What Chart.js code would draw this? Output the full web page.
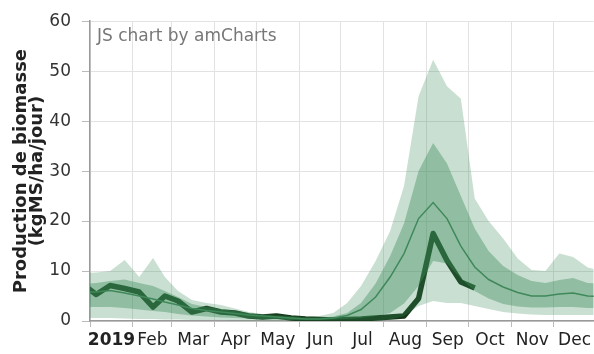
<!DOCTYPE html>
<html>
<head>
<meta charset="utf-8">
<title>Production de biomasse</title>
<script src="https://cdn.jsdelivr.net/npm/chart.js@4/dist/chart.umd.min.js"></script>
<style>
  html, body { margin: 0; padding: 0; background: #fff; }
  #chart { display: block; }
</style>
</head>
<body>
<canvas id="chart" width="594" height="354"></canvas>
<script>
// Day of year at the middle of each dekad (plus one point either side of the year)
const dekadDays = [-5.5, 4.5, 14.5, 25, 35.5, 45.5, 54, 63.5, 73.5, 84, 94.5, 104.5, 114.5,
  124.5, 134.5, 145, 155.5, 165.5, 175.5, 185.5, 195.5, 206, 216.5, 226.5, 237,
  247.5, 257.5, 267.5, 277.5, 287.5, 298, 308.5, 318.5, 328.5, 338.5, 348.5, 359, 369.5];

// Min / max over past years
const outerLow = [0.6, 0.6, 0.6, 0.5, 0.4, 0.4, 0.3, 0.3, 0.2, 0.2, 0.2, 0.1, 0.1, 0.1,
  0.1, 0.1, 0.1, 0.1, 0.1, 0.1, 0.1, 0.1, 0.3, 1.0, 3.0, 4.0, 3.6, 3.6, 3.0, 2.4,
  1.8, 1.5, 1.3, 1.2, 1.2, 1.2, 1.2, 1.2];
const outerHigh = [9.6, 9.7, 10.0, 12.2, 8.8, 12.6, 8.8, 6.0, 4.2, 3.6, 3.2, 2.5, 1.8, 1.4,
  1.2, 1.0, 0.8, 1.0, 1.6, 3.6, 7.0, 12.0, 18.0, 27.0, 45.0, 52.3, 47.0, 44.5, 24.5,
  20.0, 16.5, 12.5, 10.2, 10.0, 13.5, 12.8, 10.7, 10.0];

// Quartiles
const innerLow = [2.8, 2.8, 2.8, 2.6, 2.3, 2.0, 1.8, 1.4, 1.1, 0.9, 0.7, 0.6, 0.5, 0.4,
  0.3, 0.2, 0.2, 0.2, 0.3, 0.4, 0.6, 1.0, 1.6, 3.5, 7.0, 12.0, 11.5, 8.5, 6.0, 4.5,
  3.4, 2.9, 2.7, 2.7, 2.8, 2.8, 2.6, 2.6];
const innerHigh = [7.4, 7.6, 8.0, 8.3, 7.6, 7.0, 6.0, 4.8, 3.4, 2.8, 2.4, 2.0, 1.6, 1.2,
  1.0, 0.8, 0.6, 0.6, 0.9, 1.6, 3.6, 7.5, 13.0, 19.5, 30.0, 35.6, 31.5, 25.0, 18.5,
  14.0, 11.0, 9.2, 8.0, 7.6, 8.2, 8.6, 7.6, 7.5];

const median = [5.8, 5.8, 6.1, 5.6, 5.0, 4.4, 3.8, 3.2, 2.5, 2.1, 1.8, 1.5, 1.2, 1.0,
  0.8, 0.6, 0.4, 0.4, 0.6, 1.1, 2.3, 4.8, 8.8, 13.5, 20.5, 23.7, 20.5, 15.0, 10.8,
  8.3, 6.8, 5.7, 5.0, 5.0, 5.4, 5.6, 5.0, 4.9];

// Current year, up to early October
const year2019 = [7.4, 5.3, 7.1, 6.5, 5.8, 2.8, 5.0, 4.0, 1.8, 2.5, 1.8, 1.6, 1.0, 0.8,
  1.0, 0.6, 0.4, 0.3, 0.2, 0.3, 0.4, 0.6, 0.8, 1.0, 4.5, 17.5, 12.1, 7.8, 6.6];

const monthStarts = [0, 31, 59, 90, 120, 151, 181, 212, 243, 273, 304, 334];
const monthMids = [15.5, 45, 74.5, 105, 135.5, 166, 196.5, 227.5, 258, 288.5, 319, 349.5];
const monthLabels = ['2019', 'Feb', 'Mar', 'Apr', 'May', 'Jun', 'Jul', 'Aug', 'Sep', 'Oct', 'Nov', 'Dec'];
const yTicks = [0, 10, 20, 30, 40, 50, 60];

const points = values => values.map((v, i) => ({ x: dekadDays[i], y: v }));

const band = (values, fill, color) => ({
  data: points(values),
  borderWidth: 0,
  pointRadius: 0,
  fill: fill,
  backgroundColor: color,
  tension: 0
});

Chart.defaults.font.family = "'DejaVu Sans', Verdana, sans-serif";
Chart.defaults.font.size = 17;
Chart.defaults.color = '#333';

// Small grey credit in the plot corner
const credit = {
  id: 'credit',
  afterDatasetsDraw(chart) {
    const ctx = chart.ctx;
    ctx.save();
    ctx.font = "17px 'DejaVu Sans'";
    ctx.fillStyle = '#777';
    ctx.textBaseline = 'alphabetic';
    ctx.fillText('JS chart by amCharts', chart.chartArea.left + 7, 41);
    ctx.restore();
  }
};

new Chart(document.getElementById('chart'), {
  type: 'line',
  data: {
    datasets: [
      band(outerLow, false, 'transparent'),
      band(outerHigh, '-1', 'rgba(60,140,90,0.28)'),
      band(innerLow, false, 'transparent'),
      band(innerHigh, '-1', 'rgba(60,140,90,0.4)'),
      {
        data: points(median),
        borderColor: '#45845a',
        borderWidth: 1.5,
        pointRadius: 0,
        fill: false,
        tension: 0
      },
      {
        data: points(year2019),
        borderColor: '#143818',
        borderWidth: 5.5,
        borderJoinStyle: 'round',
        pointRadius: 0,
        fill: false,
        tension: 0
      }
    ]
  },
  options: {
    responsive: false,
    animation: false,
    layout: { padding: { top: 19, right: 0 } },
    plugins: {
      legend: { display: false },
      tooltip: { enabled: false }
    },
    scales: {
      x: {
        type: 'linear',
        min: 0,
        max: 363.3,
        weight: 0,
        afterBuildTicks: axis => { axis.ticks = monthStarts.map(v => ({ value: v })); },
        afterFit: axis => { axis.height = 6; },
        ticks: { display: false },
        grid: { color: '#e2e2e2', tickColor: '#bbb', tickLength: 6 },
        border: { color: '#999', width: 1.5 }
      },
      xLabels: {
        type: 'linear',
        position: 'bottom',
        min: 0,
        max: 363.3,
        weight: 1,
        afterBuildTicks: axis => { axis.ticks = monthMids.map(v => ({ value: v })); },
        afterFit: axis => { axis.height = 27; },
        ticks: {
          padding: 3,
          maxRotation: 0,
          autoSkip: false,
          color: '#222',
          callback: (value, index) => monthLabels[index],
          font: ctx => ctx.index === 0 ? { weight: 'bold' } : { weight: 'normal' }
        },
        grid: { display: false, drawTicks: false },
        border: { display: false }
      },
      y: {
        min: 0,
        max: 60,
        afterBuildTicks: axis => { axis.ticks = yTicks.map(v => ({ value: v })); },
        afterFit: axis => { axis.width = 90; },
        ticks: { padding: 11, color: '#333' },
        grid: { color: '#e2e2e2', tickColor: '#bbb', tickLength: 8 },
        border: { color: '#999', width: 1.5 },
        title: {
          display: true,
          text: ['Production de biomasse', '(kgMS/ha/jour)'],
          color: '#222',
          font: { size: 18, weight: 'bold', lineHeight: 0.9 },
          padding: { top: 13, bottom: 0 }
        }
      }
    }
  },
  plugins: [credit]
});
</script>
</body>
</html>
